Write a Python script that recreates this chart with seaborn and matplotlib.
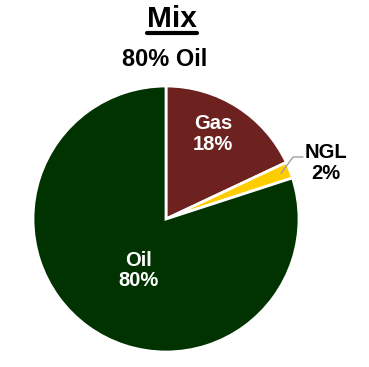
import matplotlib
matplotlib.use("Agg")
import matplotlib.pyplot as plt
import seaborn as sns
import numpy as np

sns.set_theme(style="white")
plt.rcParams['font.family'] = ['Liberation Sans', 'DejaVu Sans']

categories = ["Gas", "NGL", "Oil"]
values = [18, 2, 80]
colors = ["#6E2220", "#FFCC00", "#003300"]
title = "Mix"
subtitle = "80% Oil"

W, H = 369, 367
fig = plt.figure(figsize=(W / 100, H / 100), dpi=100)
fig.patch.set_facecolor("white")

cx, cy, r = 166, 219, 133
ax = fig.add_axes([(cx - r) / W, (H - cy - r) / H, 2 * r / W, 2 * r / H])
wedges, _ = ax.pie(values, colors=colors, startangle=90, counterclock=False,
                   radius=1.0, wedgeprops=dict(edgecolor="white", linewidth=2))
ax.set_xlim(-1, 1)
ax.set_ylim(-1, 1)
ax.set_aspect("equal")
ax.axis("off")

# inside labels
inside = {"Gas": (0.73, 61), "Oil": (0.44, 242)}
for w, cat, v in zip(wedges, categories, values):
    if cat in inside:
        d, ang = inside[cat]
        a = np.deg2rad(ang)
        ax.text(d * np.cos(a), d * np.sin(a), f"{cat}\n{v}%", color="white",
                ha="center", va="center", fontsize=14.5, fontweight="bold",
                linespacing=1.1)

# NGL outside label with leader line
w = wedges[1]
mid = np.deg2rad((w.theta1 + w.theta2) / 2)
x0, y0 = 0.93 * np.cos(mid), 0.93 * np.sin(mid)
x1, y1 = (293 - cx) / r, (cy - 157) / r
x2, y2 = (303 - cx) / r, (cy - 157) / r
ax.plot([x0, x1, x2], [y0, y1, y2], color="#A0A0A0", lw=1, clip_on=False)
ax.text((326 - cx) / r, (cy - 163) / r, f"{categories[1]}\n{values[1]}%",
        color="black", ha="center", va="center", fontsize=14.5,
        fontweight="bold", linespacing=1.1)

# titles
fig.text(172 / W, 1 - 19 / H, title, ha="center", va="center",
         fontsize=21.5, fontweight="bold", color="black")
fig.add_artist(plt.Line2D([147 / W, 197 / W], [1 - 32.5 / H, 1 - 32.5 / H],
                          color="black", lw=3))
fig.text(165 / W, 1 - 60 / H, subtitle, ha="center", va="center",
         fontsize=17, fontweight="bold", color="black")

fig.savefig("out.png", dpi=100)
